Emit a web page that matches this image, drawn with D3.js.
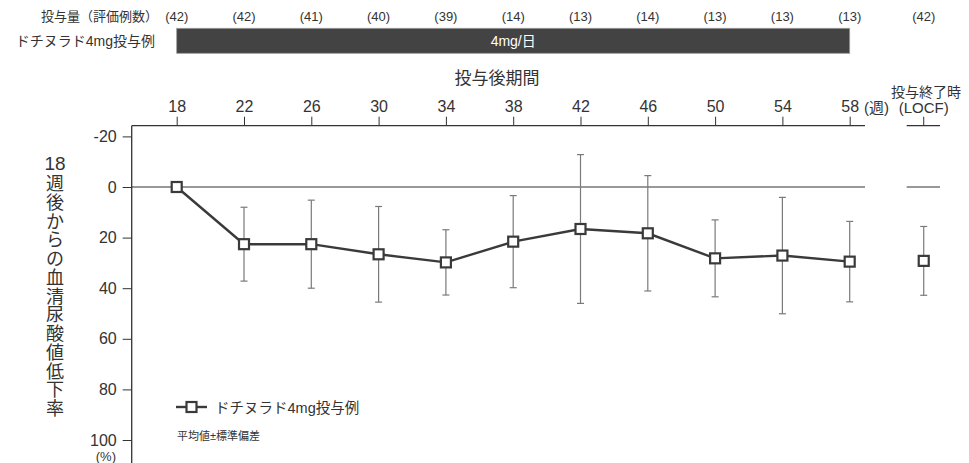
<!DOCTYPE html>
<meta charset="utf-8">
<script src="https://d3js.org/d3.v7.min.js"></script>
<style>
  body { margin: 0; background: #fff; }
  text { font-family: "Liberation Sans", "Noto Sans CJK JP", sans-serif; fill: #333; }
</style>
<div id="chart"></div>
<script>
// data
const weeks  = ["18", "22", "26", "30", "34", "38", "42", "46", "50", "54", "58", "LOCF"];
const counts = [42, 42, 41, 40, 39, 14, 13, 14, 13, 13, 13, 42];
const means  = [0, 22.6, 22.6, 26.6, 29.8, 21.6, 16.6, 18.3, 28.2, 27.1, 29.5, 29.2];
const sds    = [0, 14.6, 17.4, 18.9, 12.9, 18.2, 29.4, 22.8, 15.2, 23.0, 15.9, 13.6];
const yTicks = [-20, 0, 20, 40, 60, 80, 100];
const xTicks = [18, 22, 26, 30, 34, 38, 42, 46, 50, 54, 58];

const W = 969, H = 463;
const svg = d3.select("#chart").append("svg")
  .attr("width", W).attr("height", H);

// scales
const x = d3.scaleLinear().domain([18, 58]).range([176.7, 849.7]);
const locfWeek = 62.4; // LOCF column sits after a gap
const xPos = w => w === "LOCF" ? x(locfWeek) : x(+w);
const y = d3.scaleLinear().domain([0, 100]).range([187, 440]);

const axisTop = 125.7, axisLeft = 131.7;
const gray = "#333";

// header: patient counts
svg.append("text")
  .attr("x", 158).attr("y", 21)
  .attr("text-anchor", "end")
  .style("font-size", "13px")
  .text("投与量（評価例数）");
svg.selectAll(".cnt").data(weeks).join("text")
  .attr("class", "cnt")
  .attr("x", d => xPos(d)).attr("y", 21)
  .attr("text-anchor", "middle")
  .style("font-size", "13px")
  .text((d, i) => `(${counts[i]})`);

svg.append("text")
  .attr("x", 155).attr("y", 46)
  .attr("text-anchor", "end")
  .style("font-size", "14px")
  .text("ドチヌラド4mg投与例");

// dosing bar
svg.append("rect")
  .attr("x", x(18)).attr("y", 28.3)
  .attr("width", x(58) - x(18)).attr("height", 25)
  .attr("fill", "#434343")
  .attr("stroke", "#9a9a9a").attr("stroke-width", 0.8);
svg.append("text")
  .attr("x", (x(18) + x(58)) / 2).attr("y", 46)
  .attr("text-anchor", "middle")
  .style("font-size", "14px")
  .style("fill", "#fff")
  .text("4mg/日");

// x title
svg.append("text")
  .attr("x", 497).attr("y", 84)
  .attr("text-anchor", "middle")
  .style("font-size", "17px")
  .text("投与後期間");

// top axis
const xAxis = svg.append("g")
  .attr("transform", `translate(0,${axisTop})`)
  .call(d3.axisTop(x).tickValues(xTicks).tickSize(9).tickPadding(5).tickSizeOuter(0));
xAxis.select(".domain").remove();
xAxis.selectAll(".tick line").attr("stroke", gray);
xAxis.selectAll(".tick text")
  .style("font-size", "16px")
  .style("font-family", "'Liberation Sans', sans-serif")
  .attr("fill", gray);
svg.append("line")
  .attr("x1", axisLeft).attr("x2", 865)
  .attr("y1", axisTop).attr("y2", axisTop)
  .attr("stroke", gray).attr("stroke-width", 1.3);
// LOCF axis piece
svg.append("line")
  .attr("x1", 906.7).attr("x2", 940)
  .attr("y1", axisTop).attr("y2", axisTop)
  .attr("stroke", gray).attr("stroke-width", 1.3);
svg.append("line")
  .attr("x1", xPos("LOCF")).attr("x2", xPos("LOCF"))
  .attr("y1", axisTop).attr("y2", axisTop - 9)
  .attr("stroke", gray);
svg.append("text")
  .attr("x", 864).attr("y", 113)
  .style("font-size", "15px")
  .text("(週)");
svg.append("text")
  .attr("x", xPos("LOCF")).attr("y", 113)
  .attr("text-anchor", "middle")
  .style("font-size", "15px")
  .text("(LOCF)");
svg.append("text")
  .attr("x", 926).attr("y", 97)
  .attr("text-anchor", "middle")
  .style("font-size", "14px")
  .text("投与終了時");

// left axis
const yAxis = svg.append("g")
  .attr("transform", `translate(${axisLeft},0)`)
  .call(d3.axisLeft(y).tickValues(yTicks).tickFormat(d => String(d))
    .tickSize(9).tickPadding(6).tickSizeOuter(0));
yAxis.select(".domain").remove();
yAxis.selectAll(".tick line").attr("stroke", gray);
yAxis.selectAll(".tick text")
  .style("font-size", "16px")
  .style("font-family", "'Liberation Sans', sans-serif")
  .attr("fill", gray);
svg.append("line")
  .attr("x1", axisLeft).attr("x2", axisLeft)
  .attr("y1", axisTop).attr("y2", H)
  .attr("stroke", gray).attr("stroke-width", 1.3);
svg.append("text")
  .attr("x", 116).attr("y", 461)
  .attr("text-anchor", "end")
  .style("font-size", "13px")
  .text("(%)");

// zero line
svg.append("line")
  .attr("x1", axisLeft).attr("x2", 865)
  .attr("y1", y(0)).attr("y2", y(0))
  .attr("stroke", gray).attr("stroke-width", 1);
svg.append("line")
  .attr("x1", 906.7).attr("x2", 940)
  .attr("y1", y(0)).attr("y2", y(0))
  .attr("stroke", gray).attr("stroke-width", 1);

// y title (vertical)
const yTitle = "週後からの血清尿酸値低下率".split("");
svg.append("text")
  .attr("x", 55).attr("y", 170)
  .attr("text-anchor", "middle")
  .style("font-size", "19px")
  .text("18");
svg.selectAll(".ych").data(yTitle).join("text")
  .attr("class", "ych")
  .attr("x", 55).attr("y", (d, i) => 190 + i * 18.75)
  .attr("text-anchor", "middle")
  .style("font-size", "18px")
  .text(d => d);

// error bars
const pts = weeks.map((w, i) => ({ w, m: means[i], s: sds[i] }));
const eb = svg.append("g").attr("stroke", "#7a7a7a").attr("stroke-width", 1.2);
pts.filter(d => d.s > 0).forEach(d => {
  const cx = xPos(d.w);
  eb.append("line").attr("x1", cx).attr("x2", cx)
    .attr("y1", y(d.m - d.s)).attr("y2", y(d.m + d.s));
  [d.m - d.s, d.m + d.s].forEach(v => {
    eb.append("line").attr("x1", cx - 3.5).attr("x2", cx + 3.5)
      .attr("y1", y(v)).attr("y2", y(v));
  });
});

// mean line (not through LOCF)
const line = d3.line().x(d => xPos(d.w)).y(d => y(d.m));
svg.append("path")
  .datum(pts.filter(d => d.w !== "LOCF"))
  .attr("d", line)
  .attr("fill", "none")
  .attr("stroke", "#3a3a3a")
  .attr("stroke-width", 2.4);

// square markers
const sz = 10;
svg.selectAll(".pt").data(pts).join("rect")
  .attr("class", "pt")
  .attr("x", d => xPos(d.w) - sz / 2)
  .attr("y", d => y(d.m) - sz / 2)
  .attr("width", sz).attr("height", sz)
  .attr("fill", "#fff")
  .attr("stroke", "#3a3a3a")
  .attr("stroke-width", 2.2);

// legend
const lg = svg.append("g").attr("transform", "translate(176,407)");
lg.append("line").attr("x1", 0).attr("x2", 31).attr("y1", 0).attr("y2", 0)
  .attr("stroke", "#3a3a3a").attr("stroke-width", 2.4);
lg.append("rect").attr("x", 10.5).attr("y", -5).attr("width", sz).attr("height", sz)
  .attr("fill", "#fff").attr("stroke", "#3a3a3a").attr("stroke-width", 2.2);
lg.append("text").attr("x", 39).attr("y", 5.5)
  .style("font-size", "14.5px")
  .text("ドチヌラド4mg投与例");
svg.append("text")
  .attr("x", 177).attr("y", 440)
  .style("font-size", "11px")
  .text("平均値±標準偏差");
</script>
